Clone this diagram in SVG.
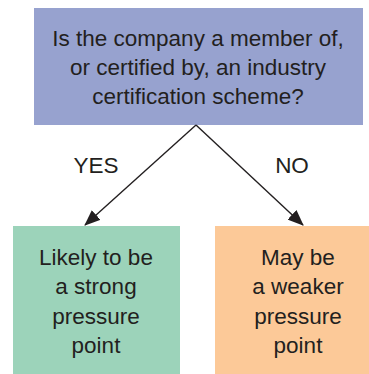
<svg xmlns="http://www.w3.org/2000/svg" width="369" height="374" viewBox="0 0 369 374">
<style>
.t{font-family:"Liberation Sans",Arial,sans-serif;font-size:22.5px;fill:#231f20;text-anchor:middle}
.c{stroke:#231f20;stroke-width:1.4;fill:none}
</style>
<defs>
<marker id="ah" viewBox="0 0 16 13" refX="15" refY="6.5" markerWidth="16" markerHeight="13" markerUnits="userSpaceOnUse" orient="auto">
<path d="M0,0 L16,6.5 L0,13 Z" fill="#231f20"/>
</marker>
</defs>
<rect width="369" height="374" fill="#ffffff"/>
<g id="q">
<rect x="34" y="8" width="329" height="117" fill="#97a2cf"/>
<text class="t" x="198" y="46">Is the company a member of,</text>
<text class="t" x="198" y="75">or certified by, an industry</text>
<text class="t" x="198" y="104">certification scheme?</text>
</g>
<g id="edges">
<path class="c" d="M196,125 L85,225" marker-end="url(#ah)"/>
<path class="c" d="M196,125 L303,225" marker-end="url(#ah)"/>
<text class="t" x="96" y="173">YES</text>
<text class="t" x="292" y="173">NO</text>
</g>
<g id="yes">
<rect x="13" y="226" width="167" height="148" fill="#9cd3ba"/>
<text class="t" x="96" y="265">Likely to be</text>
<text class="t" x="96" y="294">a strong</text>
<text class="t" x="96" y="324">pressure</text>
<text class="t" x="96" y="353">point</text>
</g>
<g id="no">
<rect x="215" y="226" width="154" height="148" fill="#fcc998"/>
<text class="t" x="298" y="265">May be</text>
<text class="t" x="298" y="294">a weaker</text>
<text class="t" x="298" y="324">pressure</text>
<text class="t" x="298" y="353">point</text>
</g>
</svg>
